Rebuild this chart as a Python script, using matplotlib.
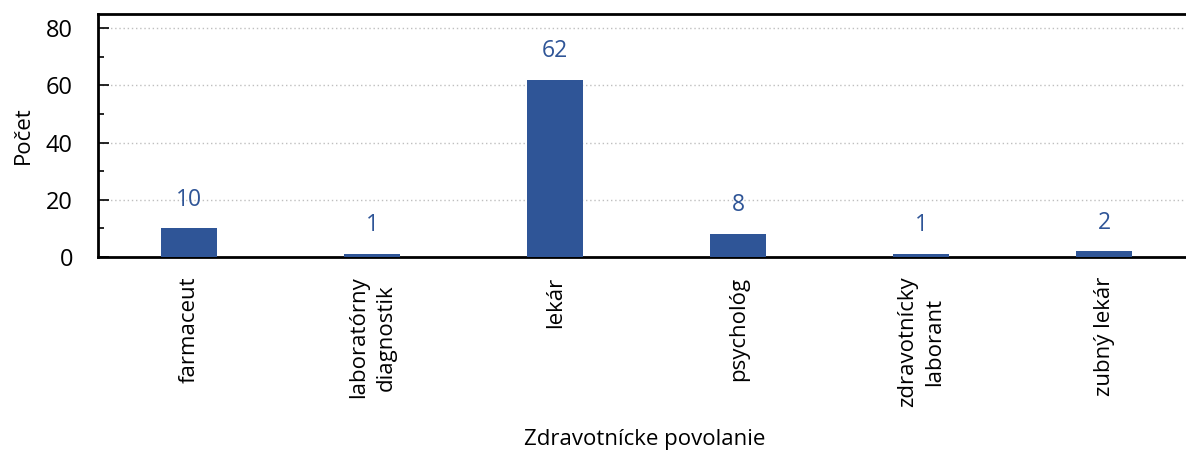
import matplotlib
matplotlib.use("Agg")
import matplotlib.pyplot as plt
from matplotlib.ticker import MultipleLocator

categories = ["farmaceut", "laboratórny\ndiagnostik", "lekár", "psychológ",
              "zdravotnícky\nlaborant", "zubný lekár"]
values = [10, 1, 62, 8, 1, 2]

plt.rcParams['font.family'] = ['Open Sans', 'DejaVu Sans']
bar_color = "#2F5597"
FS = 16

fig = plt.figure(figsize=(11.86, 4.55), dpi=100)
W, H = 1186, 455
ax = fig.add_axes([98 / W, 1 - 257 / H, (1195.5 - 98) / W, (257 - 14) / H])

x = list(range(len(categories)))
ax.bar(x, values, width=0.306, color=bar_color, zorder=3)
for xi, v in zip(x, values):
    ax.annotate(str(v), (xi, v), xytext=(0, 12), textcoords="offset points",
                ha="center", va="bottom", color=bar_color, fontsize=16.5)

ax.set_xlim(-0.5, len(categories) - 0.5)
ax.set_ylim(0, 84.9)
ax.yaxis.set_major_locator(MultipleLocator(20))
ax.yaxis.set_minor_locator(MultipleLocator(10))
ax.set_yticks([0, 20, 40, 60, 80])
ax.tick_params(axis="y", which="major", direction="in", length=8, width=1.2, labelsize=17, pad=18)
ax.tick_params(axis="y", which="minor", direction="in", length=4, width=1.2)
ax.set_xticks(x)
ax.set_xticklabels(categories, rotation=90, fontsize=FS, va="top", ha="center",
                   multialignment="center", linespacing=1.4)
ax.tick_params(axis="x", length=0, pad=14)

for yv in [20, 40, 60, 80]:
    ax.axhline(yv, color="#BFBFBF", linestyle=(0, (1, 2)), linewidth=1, zorder=1)

for s in ["left", "top", "bottom"]:
    ax.spines[s].set_linewidth(2)
    ax.spines[s].set_color("black")
ax.spines["right"].set_visible(False)

ax.set_ylabel("Počet", fontsize=FS)
ax.yaxis.set_label_coords(-(98 - 23) / (1195.5 - 98), 0.5)
ax.yaxis.label.set_va("center")
ax.set_xlabel("Zdravotnícke povolanie", fontsize=FS)
ax.xaxis.set_label_coords((645 - 98) / (1195.5 - 98), -(440 - 257) / (257 - 14))
ax.xaxis.label.set_va("center")

fig.savefig("out.png", dpi=100)
